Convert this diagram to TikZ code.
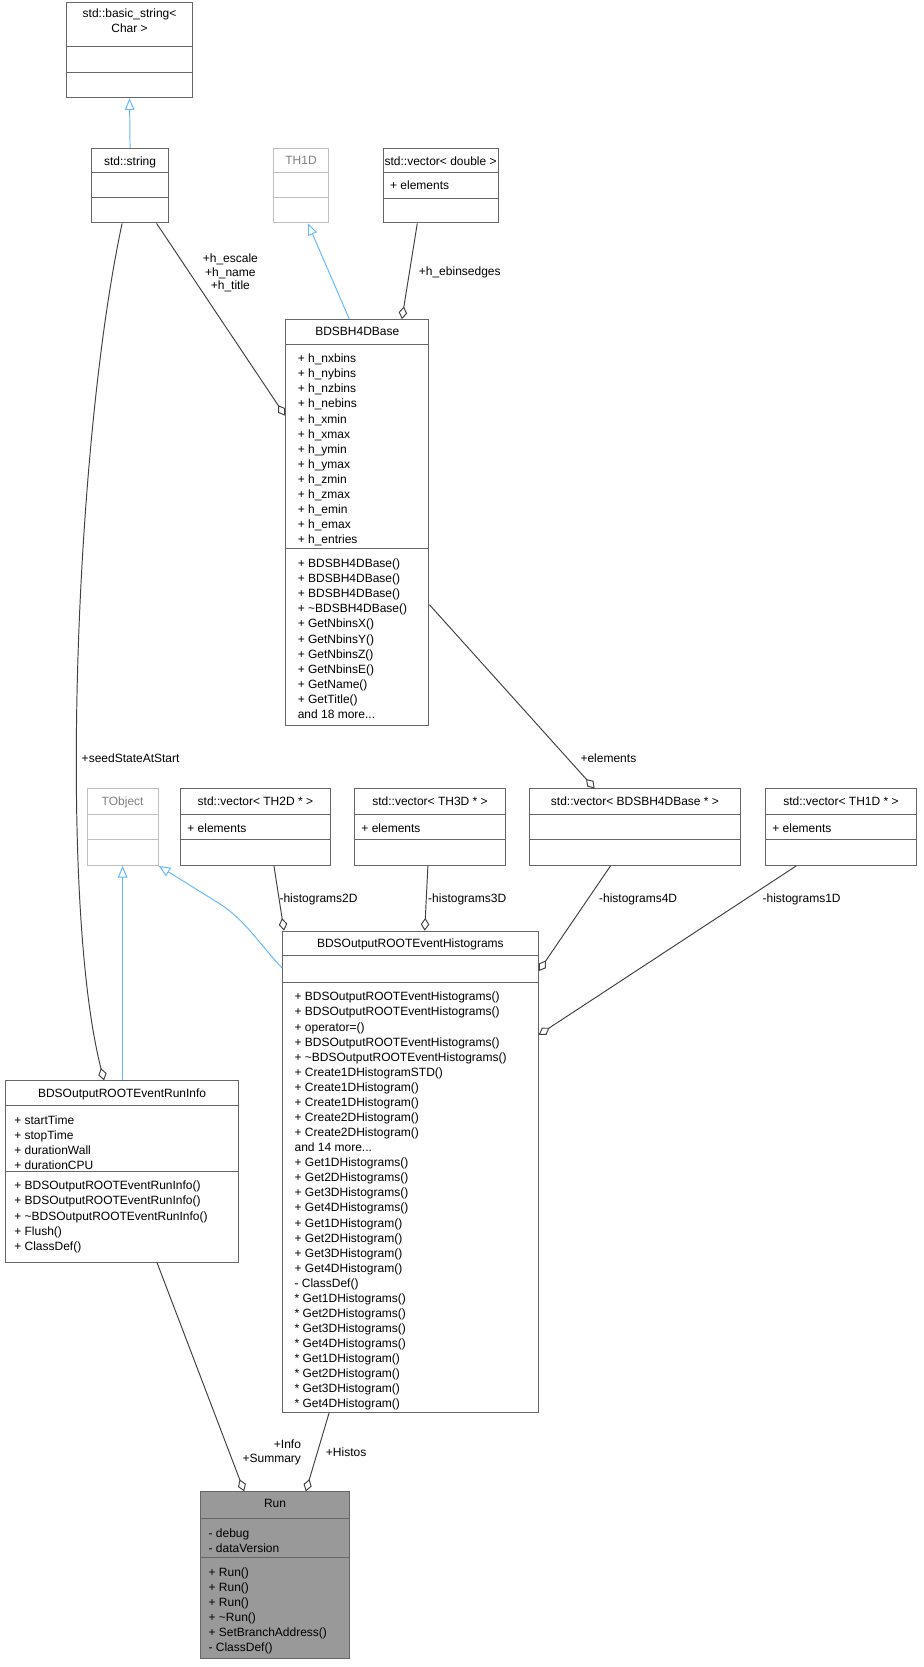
\documentclass[tikz,border=0pt]{standalone}
\usepackage{fontspec}
\setmainfont{Liberation Sans}
\usetikzlibrary{arrows.meta}
\definecolor{edge}{HTML}{404040}
\definecolor{inh}{HTML}{63B8FF}
\definecolor{gborder}{HTML}{BFBFBF}
\definecolor{bdr}{HTML}{666666}
\definecolor{runfill}{HTML}{999999}
\tikzset{
 every path/.style={line width=0.9pt},
 cbox/.style={draw=bdr,fill=white},
 gbox/.style={draw=gborder,fill=white},
 rbox/.style={draw=bdr,fill=runfill},
 agg/.style={draw=edge,-{Diamond[open,length=12pt,width=8pt,fill=white]}},
 gen/.style={draw=inh,-{Triangle[open,length=11pt,width=9pt,fill=white]}},
 lbl/.style={font=\fontsize{11.3}{12.5}\selectfont,inner sep=1pt,align=center,text=black},
 txt/.style={font=\fontsize{11.3}{14.2}\selectfont,inner sep=0,align=left,anchor=north west},
}
\newcommand\klass[6]{\node[#6,minimum width={(#4-#2)*1pt},minimum height={(#5-#3)*1pt},inner sep=0] (#1) at ({(#2+#4)/2},{(#3+#5)/2}) {};}
\newcommand\sepl[4]{\draw[#4] (#1,#3) -- (#2,#3);}
\newcommand\mem[3]{\node[txt] at (#1,{#2+3}) {#3};}
\newcommand\ttl[3]{\node[txt,anchor=north,align=center] at (#1,{#2+3}) {#3};}
\begin{document}
\begin{tikzpicture}[x=1pt,y=-1pt]
\useasboundingbox[fill=white] (0,0) rectangle (870,1570);
% basic_string
\klass{bstr}{63}{2}{181}{92}{cbox}
\sepl{63}{181}{44}{bdr}\sepl{63}{181}{68}{bdr}
\ttl{122}{5}{std::basic\_string<\\Char >}
% string
\klass{str}{86}{140}{159}{210}{cbox}
\sepl{86}{159}{162}{bdr}\sepl{86}{159}{186}{bdr}
\ttl{122.5}{144}{std::string}
% TH1D
\klass{th1}{258}{140}{309}{210}{gbox}
\sepl{258}{309}{162}{gborder}\sepl{258}{309}{186}{gborder}
\node[txt,anchor=north,text=gray] at (283.5,147) {TH1D};
% vector double
\klass{vdbl}{361}{140}{469}{210}{cbox}
\sepl{361}{469}{162}{bdr}\sepl{361}{469}{187}{bdr}
\ttl{415}{144}{std::vector< double >}
\mem{367}{167}{+ elements}
% BDSBH4DBase
\klass{bh}{269}{301}{404}{683}{cbox}
\sepl{269}{404}{324}{bdr}\sepl{269}{404}{517}{bdr}
\ttl{336.5}{305}{BDSBH4DBase}
\mem{280}{330}{+ h\_nxbins\\+ h\_nybins\\+ h\_nzbins\\+ h\_nebins\\+ h\_xmin\\+ h\_xmax\\+ h\_ymin\\+ h\_ymax\\+ h\_zmin\\+ h\_zmax\\+ h\_emin\\+ h\_emax\\+ h\_entries}
\mem{280}{523}{+ BDSBH4DBase()\\+ BDSBH4DBase()\\+ BDSBH4DBase()\\+ \textasciitilde BDSBH4DBase()\\+ GetNbinsX()\\+ GetNbinsY()\\+ GetNbinsZ()\\+ GetNbinsE()\\+ GetName()\\+ GetTitle()\\and 18 more...}
% TObject
\klass{tobj}{82}{743}{149}{815}{gbox}
\sepl{82}{149}{767}{gborder}\sepl{82}{149}{791}{gborder}
\node[txt,anchor=north,text=gray] at (115.5,750) {TObject};
% vectors
\klass{v2}{170}{743}{311}{815}{cbox}
\sepl{170}{311}{767}{bdr}\sepl{170}{311}{791}{bdr}
\ttl{240.5}{747}{std::vector< TH2D * >}\mem{176}{772}{+ elements}
\klass{v3}{334}{743}{476}{815}{cbox}
\sepl{334}{476}{767}{bdr}\sepl{334}{476}{791}{bdr}
\ttl{405}{747}{std::vector< TH3D * >}\mem{340}{772}{+ elements}
\klass{v4}{499}{743}{697}{815}{cbox}
\sepl{499}{697}{767}{bdr}\sepl{499}{697}{791}{bdr}
\ttl{598}{747}{std::vector< BDSBH4DBase * >}
\klass{v1}{721}{743}{863}{815}{cbox}
\sepl{721}{863}{767}{bdr}\sepl{721}{863}{791}{bdr}
\ttl{792}{747}{std::vector< TH1D * >}\mem{727}{772}{+ elements}
% Histograms
\klass{hist}{266}{877}{507}{1330}{cbox}
\sepl{266}{507}{900}{bdr}\sepl{266}{507}{925}{bdr}
\ttl{386.5}{881}{BDSOutputROOTEventHistograms}
\mem{277}{931}{+ BDSOutputROOTEventHistograms()\\+ BDSOutputROOTEventHistograms()\\+ operator=()\\+ BDSOutputROOTEventHistograms()\\+ \textasciitilde BDSOutputROOTEventHistograms()\\+ Create1DHistogramSTD()\\+ Create1DHistogram()\\+ Create1DHistogram()\\+ Create2DHistogram()\\+ Create2DHistogram()\\and 14 more...\\+ Get1DHistograms()\\+ Get2DHistograms()\\+ Get3DHistograms()\\+ Get4DHistograms()\\+ Get1DHistogram()\\+ Get2DHistogram()\\+ Get3DHistogram()\\+ Get4DHistogram()\\- ClassDef()\\* Get1DHistograms()\\* Get2DHistograms()\\* Get3DHistograms()\\* Get4DHistograms()\\* Get1DHistogram()\\* Get2DHistogram()\\* Get3DHistogram()\\* Get4DHistogram()}
% RunInfo
\klass{ri}{5}{1018}{225}{1189}{cbox}
\sepl{5}{225}{1041}{bdr}\sepl{5}{225}{1103}{bdr}
\ttl{115}{1022}{BDSOutputROOTEventRunInfo}
\mem{13}{1047}{+ startTime\\+ stopTime\\+ durationWall\\+ durationCPU}
\mem{13}{1109}{+ BDSOutputROOTEventRunInfo()\\+ BDSOutputROOTEventRunInfo()\\+ \textasciitilde BDSOutputROOTEventRunInfo()\\+ Flush()\\+ ClassDef()}
% Run
\klass{run}{189}{1405}{329}{1562}{rbox}
\sepl{189}{329}{1430}{bdr}\sepl{189}{329}{1467}{bdr}
\ttl{259}{1409}{Run}
\mem{196}{1436}{- debug\\- dataVersion}
\mem{196}{1473}{+ Run()\\+ Run()\\+ Run()\\+ \textasciitilde Run()\\+ SetBranchAddress()\\- ClassDef()}
% edges
\draw[gen] (str.north) -- (bstr.south);
\draw[gen] ([xshift=-7.5]bh.north) -- ([xshift=6.5]th1.south);
\draw[agg] ([xshift=-22]vdbl.south) -- ([xshift=42]bh.north);
\node[lbl] at (433,257) {+h\_ebinsedges};
\draw[agg] ([xshift=25]str.south) -- ([yshift=-91]bh.north west);
\node[lbl] at (217,257) {+h\_escale\\+h\_name\\+h\_title};
\draw[agg] ([yshift=-269]bh.north east) -- ([xshift=-38]v4.north);
\node[lbl] at (573,714) {+elements};
\draw[agg] ([xshift=-7.5]str.south) .. controls (70,420) and (55,850) .. ([xshift=-17]ri.north);
\node[lbl] at (123,714) {+seedStateAtStart};
\draw[gen] ([xshift=0.5]ri.north) -- (tobj.south);
\draw[gen] ([yshift=-35]hist.north west) .. controls (245,890) and (230,865) .. (205,850) -- (tobj.south east);
\draw[agg] ([xshift=17.5]v2.south) -- ([xshift=-119]hist.north);
\node[lbl] at (300,847) {-histograms2D};
\draw[agg] ([xshift=-2]v3.south) -- ([xshift=13.5]hist.north);
\node[lbl] at (440,847) {-histograms3D};
\draw[agg] ([xshift=-23]v4.south) -- ([yshift=-38]hist.north east);
\node[lbl] at (601,847) {-histograms4D};
\draw[agg] ([xshift=-42]v1.south) -- ([yshift=-98]hist.north east);
\node[lbl] at (755,847) {-histograms1D};
\draw[agg] ([xshift=33]ri.south) -- ([xshift=-29]run.north);
\node[lbl,align=right] at (256,1368) {+Info\\+Summary};
\draw[agg] ([xshift=-76.5]hist.south) -- ([xshift=29]run.north);
\node[lbl] at (326,1368) {+Histos};
\end{tikzpicture}
\end{document}
